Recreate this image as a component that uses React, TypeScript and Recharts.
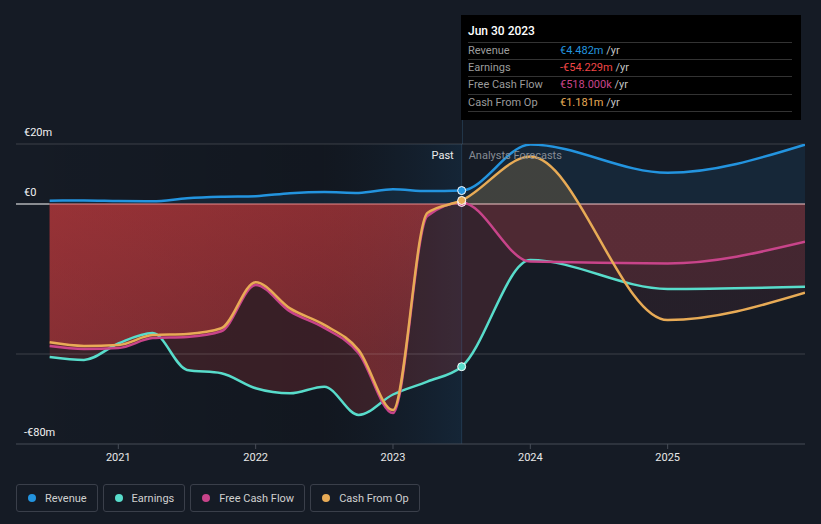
import React from 'react';
import { ComposedChart, Area, Line, XAxis, YAxis, ReferenceLine, ReferenceArea } from 'recharts';

// ---- data (values in € millions, x in decimal years) ----
const dates = [2020.5, 2020.75, 2021, 2021.25, 2021.5, 2021.75, 2022, 2022.25, 2022.5, 2022.75, 2023, 2023.25, 2023.5, 2024, 2025, 2026];
const revenue = [1.1, 1.2, 1.0, 0.9, 1.9, 2.4, 2.6, 3.6, 4.0, 3.7, 4.9, 4.3, 4.482, 19.8, 10.4, 19.8];
const earnings = [-51, -52, -46.5, -43, -55.3, -56.4, -61.4, -63.1, -60.9, -70.3, -63.5, -59.2, -54.229, -18.7, -28.3, -27.6];
const freeCashFlow = [-47.3, -48.3, -48, -44.7, -44.3, -42.4, -27, -35.8, -41.3, -49.7, -69.7, -4, 0.518, -19.2, -19.8, -12.6];
const cashFromOp = [-46.1, -47.3, -47, -43.7, -43.3, -41.4, -26.1, -34.8, -40.3, -48.7, -68.7, -3, 1.181, 15.8, -38.7, -29.6];
const yTicks = [-80, 0, 20];
const xTicks = [2021, 2022, 2023, 2024, 2025];
const gridValues = [20, -50];
const pastEnd = 2023.5;
const bandStart = 2022.5;
const tooltipTitle = 'Jun 30 2023';
const tooltipRows = [
  { label: 'Revenue', value: '€4.482m', key: 'revenue' },
  { label: 'Earnings', value: '-€54.229m', key: 'earnings' },
  { label: 'Free Cash Flow', value: '€518.000k', key: 'fcf' },
  { label: 'Cash From Op', value: '€1.181m', key: 'cfo' },
];
const legendItems = [
  { label: 'Revenue', key: 'revenue' },
  { label: 'Earnings', key: 'earnings' },
  { label: 'Free Cash Flow', key: 'fcf' },
  { label: 'Cash From Op', key: 'cfo' },
];

// ---- styles ----
const C: Record<string, string> = {
  revenue: '#2394df',
  earnings: '#58dccb',
  fcf: '#c8448a',
  cfo: '#e8ab56',
  earningsText: '#f04646',
};
const FONT = 'Roboto, "Noto Sans", sans-serif';
const BG = '#151b25';
const W = 821;
const H = 524;
const M = { top: 144, right: 16, bottom: 50, left: 16 };
const X0 = 2020.255;
const X1 = 2026;
const Y0 = -80;
const Y1 = 20;
const plotW = W - M.left - M.right;
const plotH = 300;
const xPx = (t: number) => M.left + ((t - X0) / (X1 - X0)) * plotW;
const yPx = (v: number) => M.top + ((Y1 - v) / (Y1 - Y0)) * plotH;

const fmtY = (v: number) => (v < 0 ? `-€${Math.abs(v)}m` : v === 0 ? '€0' : `€${v}m`);

const makeYLabel = (v: number) => (props: any) => {
  const vb = props.viewBox || {};
  return (
    <text x={24} y={(vb.y ?? 0) - 8} fill="#f2f2f2" fontSize={11} fontFamily={FONT}>
      {fmtY(v)}
    </text>
  );
};

const PAST_IDX = dates.indexOf(pastEnd);

const makeDot = (color: string) => (p: any) => {
  if (p.index !== PAST_IDX) return <g key={`d-${p.index}`} />;
  return <circle key={`d-${p.index}`} cx={p.cx} cy={p.cy} r={4} fill={color} stroke="#ffffff" strokeWidth={1} />;
};

export default function App() {
  const data = dates.map((t, i) => ({
    t,
    revenue: revenue[i],
    earnings: earnings[i],
    fcf: freeCashFlow[i],
    cfo: cashFromOp[i],
  }));
  const xp = xPx(pastEnd);
  const zeroFrac = (yPx(0) - M.top) / plotH;

  return (
    <div style={{ position: 'absolute', left: 0, top: 0, width: W, height: H, background: BG, overflow: 'hidden', fontFamily: FONT }}>
      <style>{`.clip-past{clip-path:url(#clipPast);} .clip-fc{clip-path:url(#clipFc);}`}</style>
      <ComposedChart width={W} height={H} data={data} margin={M}>
        <defs>
          <clipPath id="clipPast">
            <rect x={0} y={0} width={xp} height={H} />
          </clipPath>
          <clipPath id="clipFc">
            <rect x={xp} y={0} width={W - xp} height={H} />
          </clipPath>
          <linearGradient id="gFcfPast" gradientUnits="userSpaceOnUse" x1={0} x2={0} y1={yPx(0)} y2={yPx(-50)}>
            <stop offset="0" stopColor="#c0393c" stopOpacity={0.5} />
            <stop offset="1" stopColor="#c0393c" stopOpacity={0.28} />
          </linearGradient>
          <linearGradient id="gCfoPast" gradientUnits="userSpaceOnUse" x1={xPx(dates[0])} x2={xp} y1={0} y2={0}>
            <stop offset="0" stopColor="#c0393c" stopOpacity={0.4} />
            <stop offset="1" stopColor="#c0393c" stopOpacity={0.1} />
          </linearGradient>
          <linearGradient id="gCfoFc" gradientUnits="userSpaceOnUse" x1={0} x2={0} y1={M.top} y2={M.top + plotH}>
            <stop offset="0" stopColor={C.cfo} stopOpacity={0.2} />
            <stop offset={zeroFrac} stopColor={C.cfo} stopOpacity={0.2} />
            <stop offset={zeroFrac} stopColor="#e6505a" stopOpacity={0.08} />
            <stop offset="1" stopColor="#e6505a" stopOpacity={0.08} />
          </linearGradient>
          <linearGradient id="gBand" x1="0" x2="1" y1="0" y2="0">
            <stop offset="0" stopColor="#000000" stopOpacity={0.14} />
            <stop offset="1" stopColor="#14466e" stopOpacity={0.24} />
          </linearGradient>
          <linearGradient id="gDark" x1="0" x2="1" y1="0" y2="0">
            <stop offset="0" stopColor="#000000" stopOpacity={0} />
            <stop offset="1" stopColor="#000000" stopOpacity={0.15} />
          </linearGradient>
        </defs>

        <XAxis
          type="number"
          dataKey="t"
          domain={[X0, X1]}
          allowDataOverflow
          ticks={xTicks}
          interval={0}
          tickFormatter={(v: number) => String(v)}
          height={30}
          axisLine={{ stroke: '#474c57' }}
          tickLine={{ stroke: '#474c57' }}
          tickSize={5}
          tickMargin={4}
          tick={{ fill: '#e8e8e8', fontSize: 11, fontFamily: FONT }}
        />
        <YAxis type="number" domain={[Y0, Y1]} allowDataOverflow hide width={0} />

        <ReferenceArea x1={X0} x2={bandStart} y1={Y0} y2={Y1} fill="url(#gDark)" fillOpacity={1} strokeWidth={0} />
        <ReferenceArea x1={bandStart} x2={pastEnd} y1={Y0} y2={Y1} fill="url(#gBand)" fillOpacity={1} strokeWidth={0} />

        {gridValues.map((g) => (
          <ReferenceLine key={`g${g}`} y={g} stroke="rgba(255,255,255,0.17)" strokeWidth={1} />
        ))}
        <ReferenceLine segment={[{ x: X0, y: 0 }, { x: dates[0], y: 0 }]} stroke="#ffffff" strokeWidth={1} />
        <ReferenceLine segment={[{ x: dates[0], y: 0 }, { x: pastEnd, y: 0 }]} stroke="#e88a8a" strokeWidth={1} />
        <ReferenceLine segment={[{ x: pastEnd, y: 0 }, { x: X1, y: 0 }]} stroke="#f3c6c6" strokeWidth={1} />
        {yTicks.map((v) => (
          <ReferenceLine key={`t${v}`} y={v} stroke="none" label={makeYLabel(v)} />
        ))}

        <Area type="monotone" dataKey="revenue" baseValue={0} stroke="none" fill="rgba(35,148,223,0.10)" fillOpacity={1} isAnimationActive={false} activeDot={false} />

        <Area className="clip-past" type="monotone" dataKey="earnings" baseValue={0} stroke="none" fill="rgba(192,57,60,0.22)" fillOpacity={1} isAnimationActive={false} activeDot={false} />
        <Area className="clip-past" type="monotone" dataKey="fcf" baseValue={0} stroke="none" fill="url(#gFcfPast)" fillOpacity={1} isAnimationActive={false} activeDot={false} />
        <Area className="clip-past" type="monotone" dataKey="cfo" baseValue={0} stroke="none" fill="url(#gCfoPast)" fillOpacity={1} isAnimationActive={false} activeDot={false} />

        <Area className="clip-fc" type="monotone" dataKey="earnings" baseValue={0} stroke="none" fill="rgba(230,80,90,0.16)" fillOpacity={1} isAnimationActive={false} activeDot={false} />
        <Area className="clip-fc" type="monotone" dataKey="fcf" baseValue={0} stroke="none" fill="rgba(230,80,90,0.14)" fillOpacity={1} isAnimationActive={false} activeDot={false} />
        <Area className="clip-fc" type="monotone" dataKey="cfo" baseValue={0} stroke="none" fill="url(#gCfoFc)" fillOpacity={1} isAnimationActive={false} activeDot={false} />

        <ReferenceLine x={pastEnd} stroke="rgba(70,130,180,0.25)" strokeWidth={1} />

        <Line type="monotone" dataKey="earnings" stroke={C.earnings} strokeWidth={2.5} dot={makeDot(C.earnings)} activeDot={false} isAnimationActive={false} />
        <Line type="monotone" dataKey="fcf" stroke={C.fcf} strokeWidth={2.5} dot={makeDot(C.fcf)} activeDot={false} isAnimationActive={false} />
        <Line type="monotone" dataKey="cfo" stroke={C.cfo} strokeWidth={2.5} dot={makeDot(C.cfo)} activeDot={false} isAnimationActive={false} />
        <Line type="monotone" dataKey="revenue" stroke={C.revenue} strokeWidth={2.5} dot={makeDot(C.revenue)} activeDot={false} isAnimationActive={false} />
      </ComposedChart>

      {/* divider continuation above plot */}
      <div style={{ position: 'absolute', left: Math.round(xp), top: 119, width: 1, height: M.top - 119, background: 'rgba(70,130,180,0.25)' }} />

      {/* Past / Forecast labels */}
      <div style={{ position: 'absolute', right: W - (xp - 8), top: 149, fontSize: 11, color: '#ececec', lineHeight: '14px' }}>Past</div>
      <div style={{ position: 'absolute', left: xp + 7, top: 149, fontSize: 11, color: '#868b94', lineHeight: '14px' }}>Analysts Forecasts</div>

      {/* tooltip box */}
      <div style={{ position: 'absolute', left: 461, top: 15, width: 340, height: 105, background: '#000000' }}>
        <div style={{ position: 'absolute', left: 7, top: 8, fontSize: 12, color: '#ffffff', fontWeight: 500, lineHeight: '16px' }}>{tooltipTitle}</div>
        {tooltipRows.map((r, i) => {
          const top = 26.5 + i * 17.4;
          const valColor = r.key === 'earnings' ? C.earningsText : C[r.key];
          return (
            <div key={r.key} style={{ position: 'absolute', left: 7, top, width: 324, height: 17.4, borderTop: '1px solid #333333', fontSize: 11, lineHeight: '14px' }}>
              <span style={{ position: 'absolute', left: 0, top: 1, color: '#9c9c9c' }}>{r.label}</span>
              <span style={{ position: 'absolute', left: 92, top: 1, whiteSpace: 'nowrap' }}>
                <span style={{ color: valColor }}>{r.value}</span>
                <span style={{ color: '#c4c4c4' }}> /yr</span>
              </span>
            </div>
          );
        })}
        <div style={{ position: 'absolute', left: 7, top: 26.5 + 4 * 17.4, width: 324, height: 0, borderTop: '1px solid #333333' }} />
      </div>

      {/* legend */}
      <div style={{ position: 'absolute', left: 16, top: 484, display: 'flex', gap: 5 }}>
        {legendItems.map((it) => (
          <div key={it.key} style={{ height: 26, border: '1px solid #3a3f4a', borderRadius: 3, display: 'flex', alignItems: 'center', padding: '0 10px 0 11px', boxSizing: 'content-box' }}>
            <span style={{ width: 8, height: 8, borderRadius: 4, background: C[it.key], display: 'inline-block', marginRight: 9 }} />
            <span style={{ fontSize: 11, color: '#d0d0d0', whiteSpace: 'nowrap' }}>{it.label}</span>
          </div>
        ))}
      </div>
    </div>
  );
}
